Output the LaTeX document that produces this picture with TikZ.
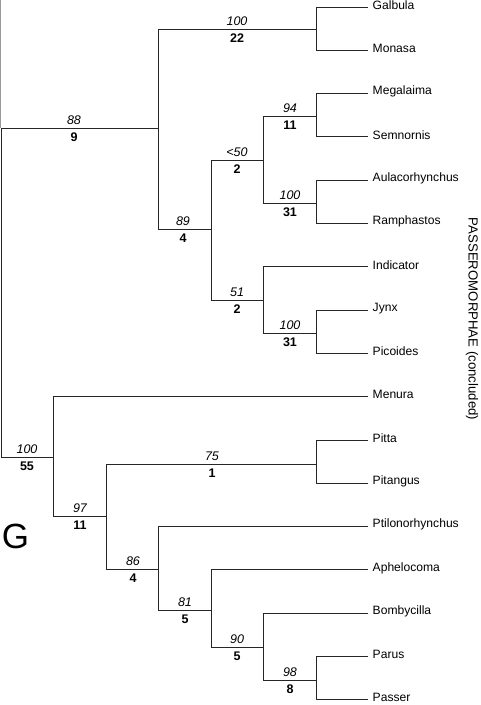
\documentclass[tikz,border=0pt]{standalone}
\usepackage{fontspec}
\setmainfont{Liberation Sans}
\begin{document}
\begin{tikzpicture}[x=1pt,y=-1pt,
  br/.style={draw=black!85,line width=0.9pt},
  leaf/.style={anchor=west,inner sep=0pt,font=\fontsize{12.1}{14}\selectfont},
  sup/.style={anchor=base,inner sep=0pt,font=\fontsize{12.5}{14}\selectfont\itshape},
  dec/.style={anchor=base,inner sep=0pt,font=\fontsize{12.5}{14}\selectfont\bfseries}]
\useasboundingbox (0,0) rectangle (480,705);
% leaves
\foreach \nm/\lab [count=\i from 0] in {gal/Galbula,mon/Monasa,meg/Megalaima,sem/Semnornis,aul/Aulacorhynchus,ram/Ramphastos,ind/Indicator,jyn/Jynx,pic/Picoides,men/Menura,pit/Pitta,pitg/Pitangus,pti/Ptilonorhynchus,aph/Aphelocoma,bom/Bombycilla,par/Parus,pas/Passer}{
  \coordinate (\nm) at (368,{7+43.3*\i});
  \node[leaf] (t\nm) at (372.5,{5+43.3*\i}) {\lab};
}
% internal nodes
\coordinate (n1) at (316,29);
\coordinate (n2) at (316,116);
\coordinate (n3) at (316,203);
\coordinate (n4) at (263,160);
\coordinate (n5) at (316,333);
\coordinate (n6) at (263,300);
\coordinate (n7) at (211,229);
\coordinate (n8) at (158,128);
\coordinate (root) at (1.5,292);
\coordinate (n9) at (53,457);
\coordinate (n10) at (106,516);
\coordinate (n11) at (316,464);
\coordinate (n12) at (158,569);
\coordinate (n13) at (211,610);
\coordinate (n14) at (263,647);
\coordinate (n15) at (316,680);
\coordinate (top) at (0.5,0);
% branches
\draw[draw=black!40,line width=0.7pt] (top) -- (0.5,128);
\draw[br] (n1) |- (gal) (n1) |- (mon);
\draw[br] (n2) |- (meg) (n2) |- (sem);
\draw[br] (n3) |- (aul) (n3) |- (ram);
\draw[br] (n4) |- (n2) (n4) |- (n3);
\draw[br] (n5) |- (jyn) (n5) |- (pic);
\draw[br] (n6) |- (ind) (n6) |- (n5);
\draw[br] (n7) |- (n4) (n7) |- (n6);
\draw[br] (n8) |- (n1) (n8) |- (n7);
\draw[br] (root) |- (n8) (root) |- (n9);
\draw[br] (n9) |- (men) (n9) |- (n10);
\draw[br] (n10) |- (n11) (n10) |- (n12);
\draw[br] (n11) |- (pit) (n11) |- (pitg);
\draw[br] (n12) |- (pti) (n12) |- (n13);
\draw[br] (n13) |- (aph) (n13) |- (n14);
\draw[br] (n14) |- (bom) (n14) |- (n15);
\draw[br] (n15) |- (par) (n15) |- (pas);
% branch labels
\foreach \nm/\x/\y/\a/\b in {l8/74/128/88/9, l1/237/29/100/22, l7/183/229/89/4, l4/237/160/<50/2,
  l2/290/116/94/11, l3/290/203/100/31, l6/237/300/51/2, l5/290/333/100/31,
  l9/27/457/100/55, l10/80/516/97/11, l11/212/464/75/1, l12/133/569/86/4,
  l13/185/610/81/5, l14/237/647/90/5, l15/290/680/98/8}{
  \node[sup] (\nm a) at (\x,\y-4) {\a};
  \node[dec] (\nm b) at (\x,\y+13.5) {\b};
}
\node[font=\fontsize{35}{40}\selectfont,inner sep=0pt] (G) at (15.5,536) {G};
\node[rotate=-90,inner sep=0pt,font=\fontsize{13.2}{15}\selectfont] (cl) at (472,319) {PASSEROMORPHAE (concluded)};
\end{tikzpicture}
\end{document}
